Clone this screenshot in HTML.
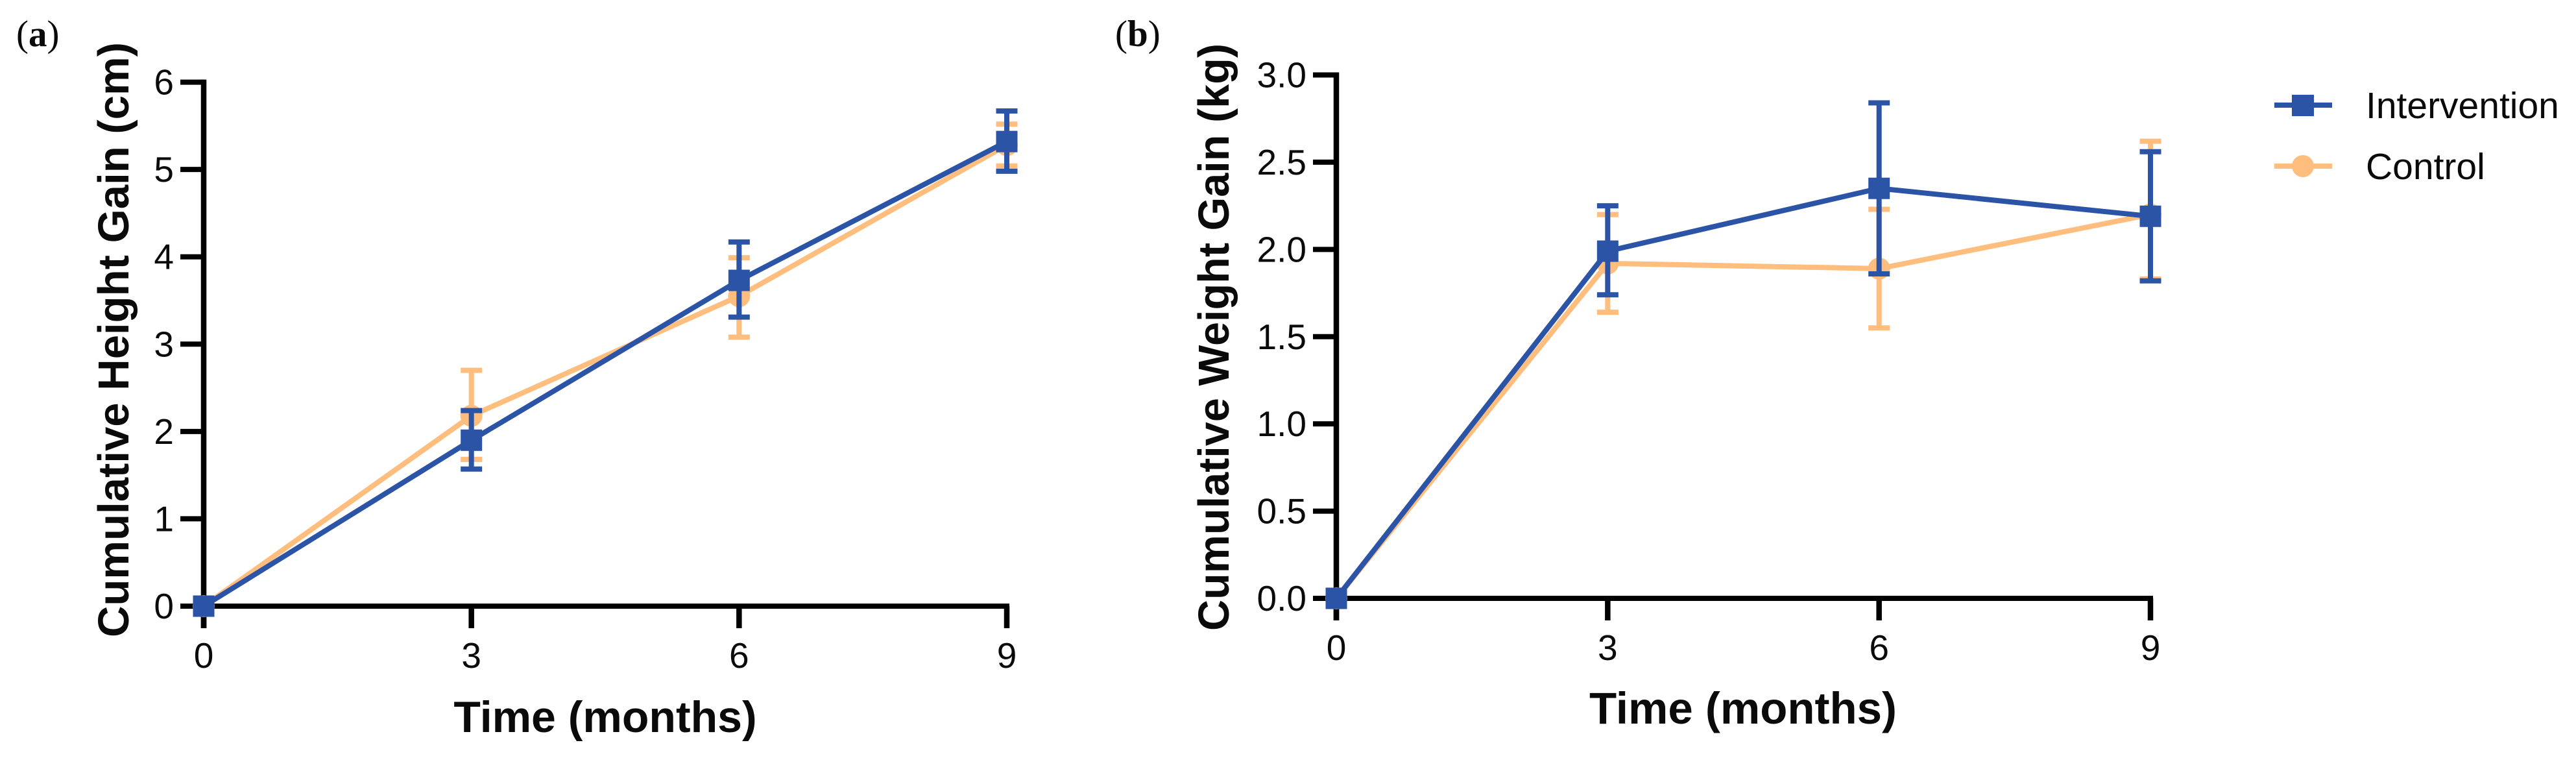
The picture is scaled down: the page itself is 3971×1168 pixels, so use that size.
<!DOCTYPE html>
<html lang="en">
<head>
<meta charset="utf-8">
<title>Cumulative height and weight gain</title>
<style>
html,body{margin:0;padding:0;background:#fff;}
svg{display:block;}
text{font-family:"Liberation Sans",sans-serif;fill:#0a0a0a;}
</style>
</head>
<body>
<svg id="chart" xmlns="http://www.w3.org/2000/svg" width="3971" height="1168" viewBox="0 0 3971 1168">
  <rect x="0" y="0" width="3971" height="1168" fill="#fff"/>

  <text x="25" y="71" font-size="57" style="font-family:'Liberation Serif',serif">(<tspan font-weight="bold">a</tspan>)</text>
  <text x="1719" y="71" font-size="57" style="font-family:'Liberation Serif',serif">(<tspan font-weight="bold">b</tspan>)</text>

  <text transform="translate(198 982) rotate(-90)" font-size="67" font-weight="bold" textLength="917" lengthAdjust="spacingAndGlyphs">Cumulative Height Gain (cm)</text>
  <text x="933" y="1128" font-size="68" font-weight="bold" text-anchor="middle">Time (months)</text>
  <text transform="translate(1894 972) rotate(-90)" font-size="66.5" font-weight="bold" textLength="905" lengthAdjust="spacingAndGlyphs">Cumulative Weight Gain (kg)</text>
  <text x="2687" y="1115" font-size="69" font-weight="bold" text-anchor="middle">Time (months)</text>

  <g id="panel-a"></g>
  <g id="panel-b"></g>

  <g>
    <g>
      <line x1="3506" x2="3595" y1="162" y2="162" stroke="#2b54a6" stroke-width="8"/>
      <rect x="3533" y="146" width="34" height="33" fill="#2b54a6"/>
      <text x="3647" y="182" font-size="57">Intervention</text>
    </g>
    <g>
      <line x1="3506" x2="3595" y1="256" y2="256" stroke="#ffbd7e" stroke-width="8"/>
      <circle cx="3550" cy="256" r="17" fill="#ffbd7e"/>
      <text x="3647" y="276" font-size="57">Control</text>
    </g>
  </g>
</svg>
<script>
var months = [0, 3, 6, 9];

var heightTicks = [0, 1, 2, 3, 4, 5, 6];
var heightTickLabels = ["0", "1", "2", "3", "4", "5", "6"];
var heightIntervention = [0, 1.90, 3.73, 5.32];
var heightInterventionUpper = [0, 2.24, 4.17, 5.67];
var heightInterventionLower = [0, 1.57, 3.31, 4.98];
var heightControl = [0, 2.18, 3.55, 5.28];
var heightControlUpper = [0, 2.70, 3.99, 5.52];
var heightControlLower = [0, 1.68, 3.08, 5.04];

var weightTicks = [0, 0.5, 1, 1.5, 2, 2.5, 3];
var weightTickLabels = ["0.0", "0.5", "1.0", "1.5", "2.0", "2.5", "3.0"];
var weightIntervention = [0, 1.99, 2.35, 2.19];
var weightInterventionUpper = [0, 2.25, 2.84, 2.56];
var weightInterventionLower = [0, 1.74, 1.86, 1.82];
var weightControl = [0, 1.92, 1.89, 2.20];
var weightControlUpper = [0, 2.20, 2.23, 2.62];
var weightControlLower = [0, 1.64, 1.55, 1.83];

var SVGNS = "http://www.w3.org/2000/svg";
var BLUE = "#2b54a6";
var ORANGE = "#ffbd7e";
var AXIS = "#000";

function make(tag, attrs, parent) {
  var el = document.createElementNS(SVGNS, tag);
  for (var k in attrs) { el.setAttribute(k, attrs[k]); }
  parent.appendChild(el);
  return el;
}

function drawSeries(g, xs, values, upper, lower, color, shape, prefix, xScale, yScale) {
  var pts = [];
  for (var i = 0; i < xs.length; i++) {
    pts.push(xScale(xs[i]) + "," + yScale(values[i]));
  }
  var line = make("polyline", {points: pts.join(" "), fill: "none", stroke: color, "stroke-width": 8, "stroke-linejoin": "round"}, g);
  
  

  for (var j = 0; j < xs.length; j++) {
    var cx = xScale(xs[j]);
    var cy = yScale(values[j]);
    var yTop = yScale(upper[j]);
    var yBot = yScale(lower[j]);
    if (upper[j] !== lower[j]) {
      var stem = make("line", {x1: cx, x2: cx, y1: yTop, y2: yBot, stroke: color, "stroke-width": 8}, g);
      
      
      var capTop = make("line", {x1: cx - 16.5, x2: cx + 16.5, y1: yTop, y2: yTop, stroke: color, "stroke-width": 8}, g);
      
      
      var capBot = make("line", {x1: cx - 16.5, x2: cx + 16.5, y1: yBot, y2: yBot, stroke: color, "stroke-width": 8}, g);
      
      
    }
    var mark;
    if (shape === "square") {
      mark = make("rect", {x: cx - 16.5, y: cy - 16.5, width: 33, height: 33, fill: color}, g);
    } else {
      mark = make("circle", {cx: cx, cy: cy, r: 17, fill: color}, g);
    }
    
    
  }
}

function drawAxes(g, p, xScale, yScale, xTicks, yTicks, yLabels, prefix) {
  var yAxis = make("line", {x1: p.x0, x2: p.x0, y1: yScale(p.yMax) - 4, y2: p.y0 + 34, stroke: AXIS, "stroke-width": 8.5}, g);
  
  
  var xAxis = make("line", {x1: p.x0 - 4, x2: xScale(p.xMax) + 4, y1: p.y0, y2: p.y0, stroke: AXIS, "stroke-width": 8}, g);
  
  

  for (var i = 0; i < yTicks.length; i++) {
    var ty = yScale(yTicks[i]);
    var tick = make("line", {x1: p.x0 - 36, x2: p.x0, y1: ty, y2: ty, stroke: AXIS, "stroke-width": 8}, g);
    
    
    var lab = make("text", {x: p.x0 - p.yLabelGap, y: ty + 19, "font-size": 55, "text-anchor": "end"}, g);
    lab.textContent = yLabels[i];
    
    
  }
  for (var j = 0; j < xTicks.length; j++) {
    var tx = xScale(xTicks[j]);
    var xt = make("line", {x1: tx, x2: tx, y1: p.y0, y2: p.y0 + 34, stroke: AXIS, "stroke-width": 8.5}, g);
    
    
    var xl = make("text", {x: tx, y: p.y0 + 95, "font-size": 55, "text-anchor": "middle"}, g);
    xl.textContent = String(xTicks[j]);
    
    
  }
}

function linear(d0, d1, r0, r1) {
  return function (v) { return r0 + (v - d0) / (d1 - d0) * (r1 - r0); };
}

function drawPanel(id, prefix, p, yTicks, yLabels, ctrl, ctrlU, ctrlL, intv, intvU, intvL) {
  var g = document.getElementById(id);
  var xScale = linear(0, p.xMax, p.x0, p.x1);
  var yScale = linear(0, p.yMax, p.y0, p.yTop);
  drawAxes(g, p, xScale, yScale, months, yTicks, yLabels, prefix);
  drawSeries(g, months, ctrl, ctrlU, ctrlL, ORANGE, "circle", prefix + "-control", xScale, yScale);
  drawSeries(g, months, intv, intvU, intvL, BLUE, "square", prefix + "-intervention", xScale, yScale);
}

drawPanel("panel-a", "panel-a",
  {x0: 314, x1: 1552, xMax: 9, y0: 934, yTop: 126.6, yMax: 6, yLabelGap: 46},
  heightTicks, heightTickLabels,
  heightControl, heightControlUpper, heightControlLower,
  heightIntervention, heightInterventionUpper, heightInterventionLower);

drawPanel("panel-b", "panel-b",
  {x0: 2060, x1: 3315, xMax: 9, y0: 922, yTop: 115.5, yMax: 3, yLabelGap: 46},
  weightTicks, weightTickLabels,
  weightControl, weightControlUpper, weightControlLower,
  weightIntervention, weightInterventionUpper, weightInterventionLower);
</script>
</body>
</html>
